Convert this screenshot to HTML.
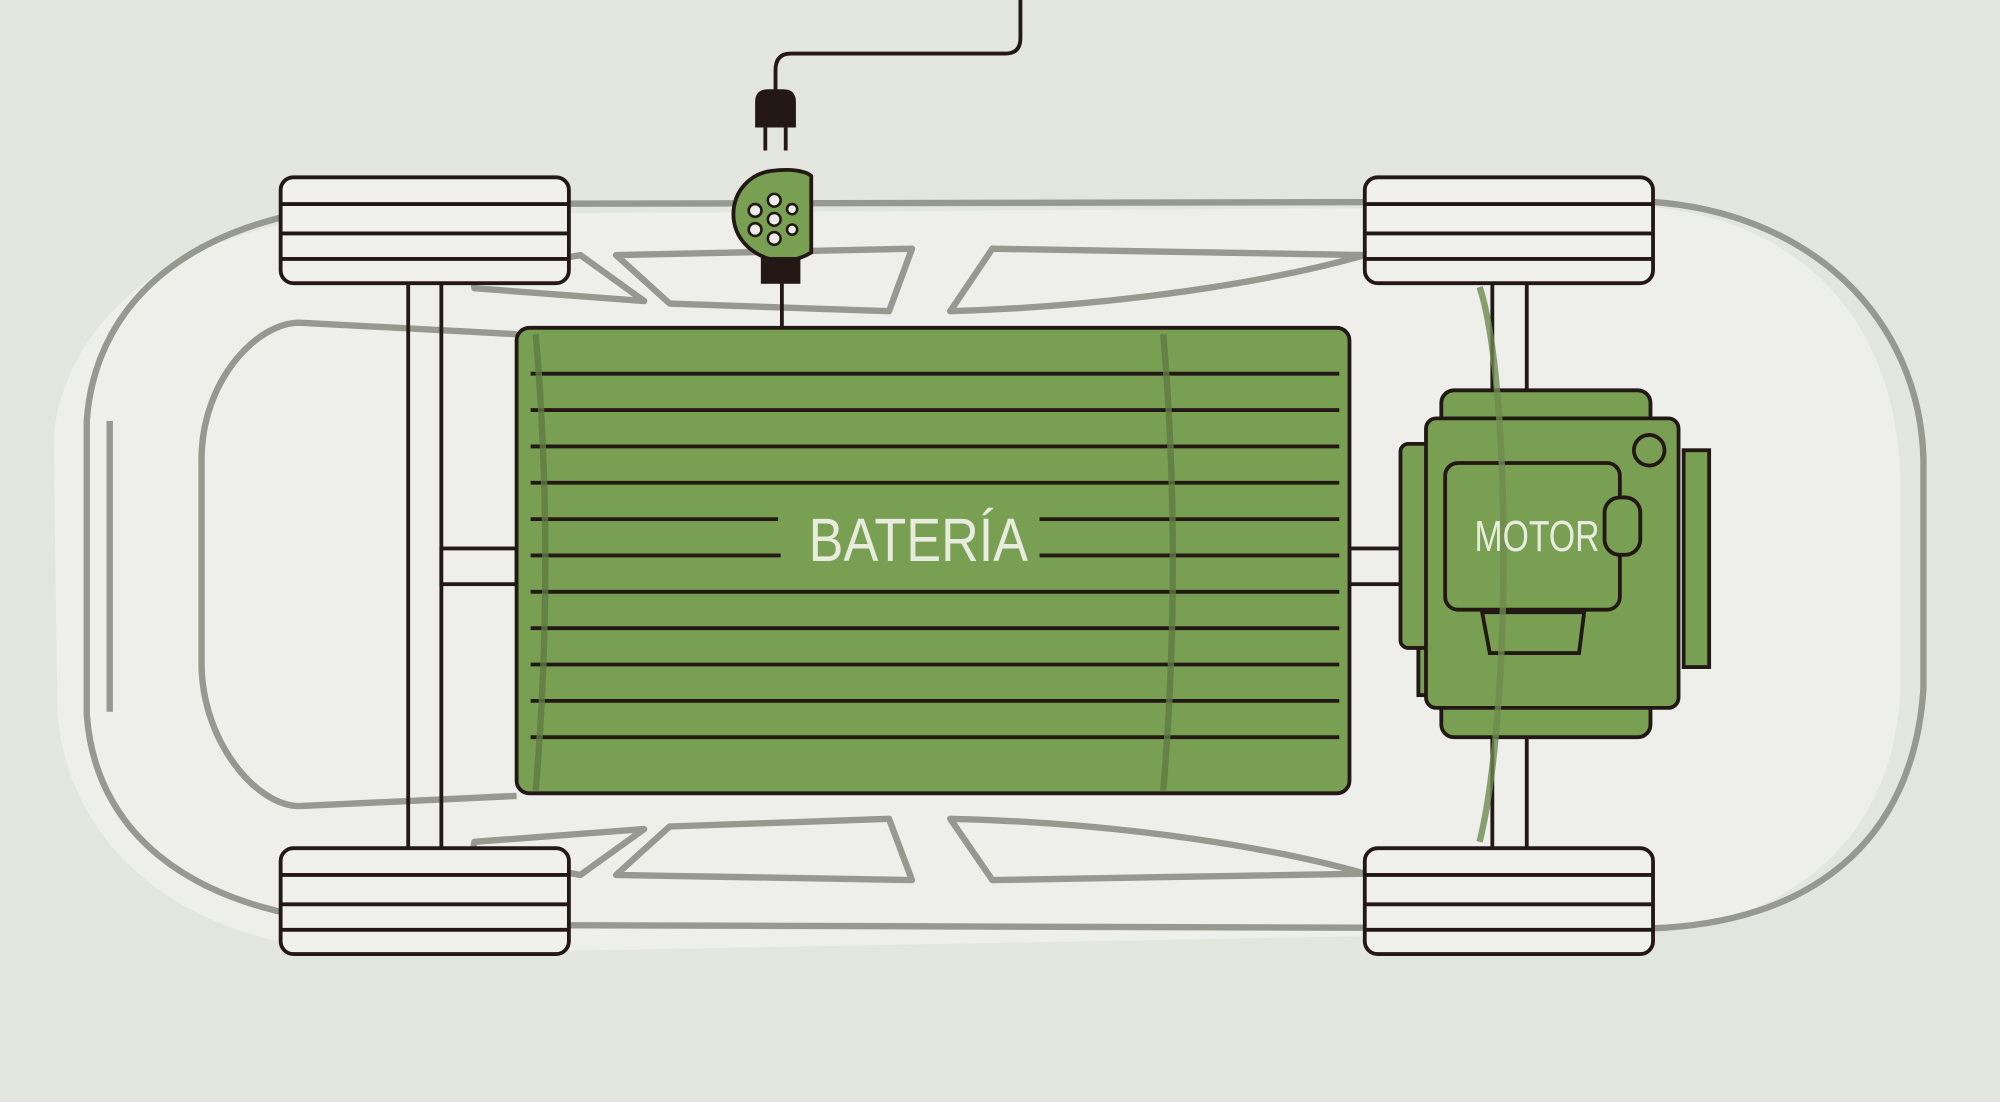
<!DOCTYPE html>
<html><head><meta charset="utf-8"><style>html,body{margin:0;padding:0;background:#e3e6df;overflow:hidden}svg{display:block}</style></head>
<body>
<svg width="2000" height="1102" viewBox="0 0 1568 864" xmlns="http://www.w3.org/2000/svg">
<rect width="1568" height="864" fill="#e3e6df"/>
<!-- car body -->
<path d="M300,168 L1290,162 C1400,170 1488,240 1490,380 L1490,540 C1485,660 1400,725 1290,730 L300,748 C150,745 55,670 45,560 L42,340 C55,240 150,170 300,168 Z" fill="#eeefea"/>
<g fill="none" stroke="#97988f" stroke-width="5" stroke-linejoin="round">
<path d="M300,160 L1290,158 C1420,165 1505,250 1508,360 L1508,540 C1500,660 1420,725 1290,728 L300,725 C160,720 75,660 68,560 L68,330 C75,230 160,165 300,160 Z"/>
<path d="M86,330 L86,558"/>
<path d="M235,253 L405,262 M235,632 L405,624 M235,253 C200,253 158,300 158,360 L158,520 C158,580 200,632 235,632"/>
<path d="M370,215 L455,200 L505,236 L372,226 Z"/>
<path d="M483,200 L715,195 L697,244 L525,238 Z"/>
<path d="M778,195 L1070,200 C1000,220 880,240 745,244 Z"/>
<path d="M370,670 L455,686 L505,650 L372,660 Z"/>
<path d="M483,686 L715,690 L697,642 L525,648 Z"/>
<path d="M778,690 L1070,685 C1000,665 880,645 745,642 Z"/>
</g>
<!-- axles -->
<g stroke="#231815" stroke-width="3" fill="none">
<line x1="320" y1="222" x2="320" y2="665"/><line x1="346" y1="222" x2="346" y2="665"/>
<rect x="346" y="430" width="59" height="28" fill="#eeefea"/>
<line x1="1170" y1="222" x2="1170" y2="665"/><line x1="1197" y1="222" x2="1197" y2="665"/>
<rect x="1058" y="430" width="42" height="28" fill="#eeefea"/>
<line x1="613" y1="215" x2="613" y2="257"/>
</g>
<!-- wheels -->
<g stroke="#231815" stroke-width="3" fill="#f0f0ec">
<g id="w"><rect x="220" y="139" width="226" height="83" rx="10"/><line x1="220" y1="160" x2="446" y2="160"/><line x1="220" y1="183" x2="446" y2="183"/><line x1="220" y1="203" x2="446" y2="203"/></g>
<use href="#w" y="526"/><use href="#w" x="850"/><use href="#w" x="850" y="526"/>
</g>
<!-- battery -->
<rect x="405" y="257" width="653" height="365" rx="10" fill="#789f52" stroke="#231815" stroke-width="3"/>
<g stroke="#231815" stroke-width="3">
<line x1="416" y1="293" x2="1050" y2="293"/><line x1="416" y1="321.5" x2="1050" y2="321.5"/><line x1="416" y1="350" x2="1050" y2="350"/><line x1="416" y1="378.5" x2="1050" y2="378.5"/>
<line x1="416" y1="407" x2="610" y2="407"/><line x1="815" y1="407" x2="1050" y2="407"/>
<line x1="416" y1="435.5" x2="612" y2="435.5"/><line x1="815" y1="435.5" x2="1050" y2="435.5"/>
<line x1="416" y1="464" x2="1050" y2="464"/><line x1="416" y1="492.5" x2="1050" y2="492.5"/><line x1="416" y1="521" x2="1050" y2="521"/><line x1="416" y1="549.5" x2="1050" y2="549.5"/><line x1="416" y1="578" x2="1050" y2="578"/>
</g>
<text x="720" y="440" text-anchor="middle" font-family="Liberation Sans, sans-serif" font-size="48" fill="#e8ecdf" textLength="172" lengthAdjust="spacingAndGlyphs">BATERÍA</text>
<g fill="none" stroke="#5f7a44" stroke-width="5" opacity="0.8">
<path d="M420,262 C430,380 430,500 420,620"/>
<path d="M912,262 C922,380 922,500 912,620"/>
</g>
<!-- motor -->
<g stroke="#231815" stroke-width="3" fill="#789f52">
<rect x="1320" y="353" width="20" height="170"/>
<rect x="1112" y="500" width="16" height="45"/>
<rect x="1098" y="348" width="30" height="160" rx="6"/>
<rect x="1130" y="306" width="164" height="272" rx="10"/>
<rect x="1118" y="328" width="198" height="227" rx="8"/>
<rect x="1133" y="363" width="137" height="115" rx="10" fill="#789f52"/>
<rect x="1258" y="390" width="28" height="45" rx="12"/>
<path d="M1162,480 L1242,480 L1238,512 L1168,512 Z"/>
<circle cx="1293" cy="353" r="12"/>
</g>
<g fill="none" stroke="#6d8a4f" stroke-width="5" opacity="0.8"><path d="M1160,225 C1185,300 1185,560 1160,660"/></g>
<text x="1205" y="432" text-anchor="middle" font-family="Liberation Sans, sans-serif" font-size="34" fill="#e8ecdf" textLength="98" lengthAdjust="spacingAndGlyphs">MOTOR</text>
<!-- charge port -->
<g stroke="#231815" stroke-width="3">
<path d="M605,134 C620,132 632,134 636,138 L636,198 C625,205 610,206 600,202 C583,195 575,182 575,168 C575,150 588,136 605,134 Z" fill="#789f52"/>
<rect x="598" y="203" width="28" height="18" fill="#231815"/>
<g fill="#eeefea" stroke-width="2"><circle cx="592" cy="165" r="5"/><circle cx="607" cy="157" r="5"/><circle cx="607" cy="172" r="5"/><circle cx="607" cy="187" r="5"/><circle cx="592" cy="180" r="5"/><circle cx="621" cy="164" r="4"/><circle cx="621" cy="180" r="4"/></g>
</g>
<!-- plug -->
<path d="M800,0 L800,30 Q800,42 788,42 L620,42 Q608,42 608,55 L608,72" fill="none" stroke="#231815" stroke-width="3"/>
<path d="M592,80 Q592,70 602,70 L614,70 Q624,70 624,80 L624,100 L592,100 Z" fill="#231815"/>
<line x1="600" y1="100" x2="600" y2="118" stroke="#231815" stroke-width="3"/>
<line x1="616" y1="100" x2="616" y2="118" stroke="#231815" stroke-width="3"/>
</svg>
</body></html>
